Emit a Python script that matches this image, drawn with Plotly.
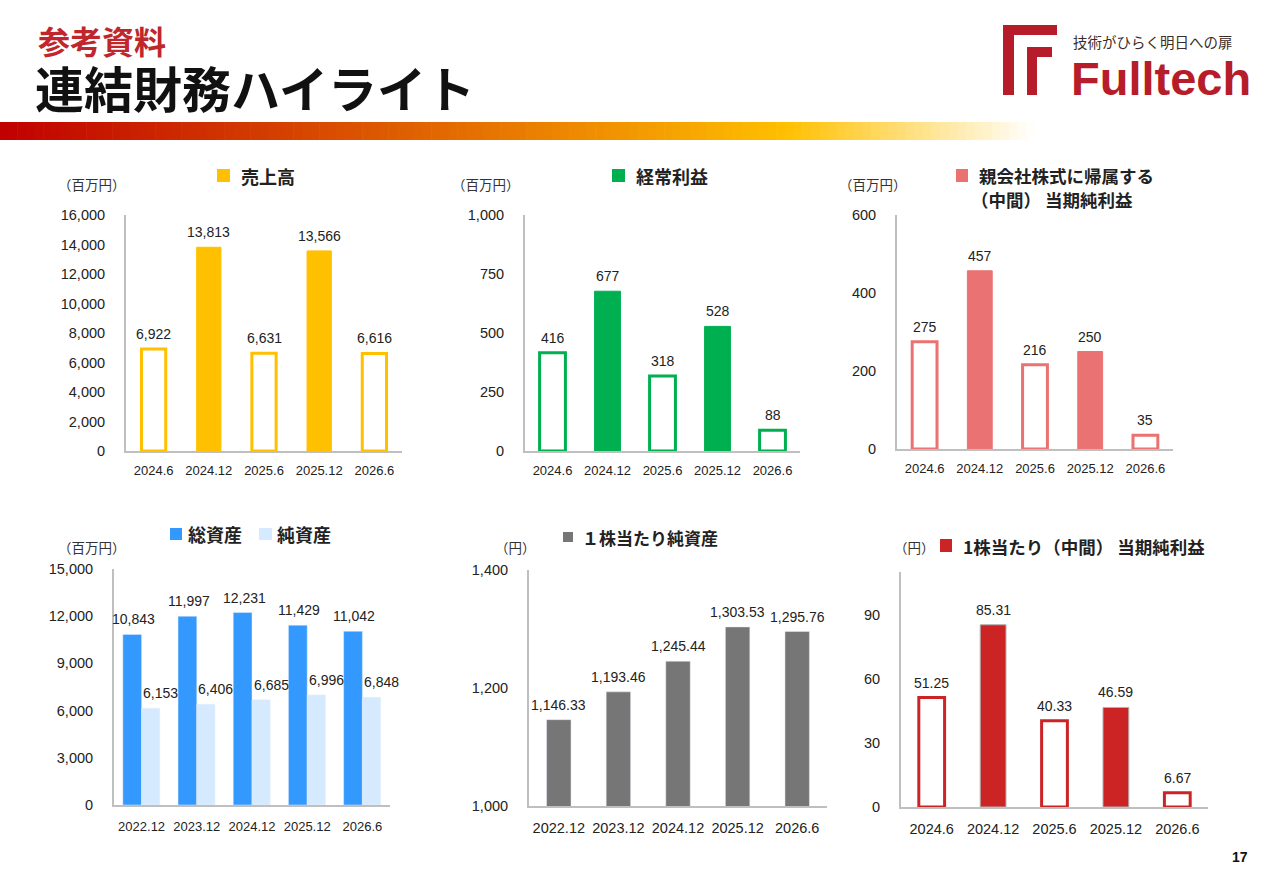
import plotly.graph_objects as go

# データ
cats_half = ["2024.6", "2024.12", "2025.6", "2025.12", "2026.6"]
cats_year = ["2022.12", "2023.12", "2024.12", "2025.12", "2026.6"]
sales = [6922, 13813, 6631, 13566, 6616]
ordinary = [416, 677, 318, 528, 88]
net_income = [275, 457, 216, 250, 35]
total_assets = [10843, 11997, 12231, 11429, 11042]
net_assets = [6153, 6406, 6685, 6996, 6848]
bps = [1146.33, 1193.46, 1245.44, 1303.53, 1295.76]
eps = [51.25, 85.31, 40.33, 46.59, 6.67]
hollow = [True, False, True, False, True]  # 中間期は白抜き

W, H = 1280, 886
JP = "Noto Sans CJK JP"
NUM = "Liberation Sans, Arial"


def px(x):
    return x / W


def py(y):
    return 1 - y / H


fig = go.Figure()
annotations = []
shapes = []


def label(i, v, xa, ya, t, xshift=0):
    # カテゴリ軸の注釈は番号で位置を指定する
    annotations.append(dict(x=i, y=v, xref=xa, yref=ya, text=t,
                            showarrow=False, yanchor="bottom", yshift=5, xshift=xshift,
                            font=dict(family=NUM, size=14, color="#222")))


def half_bars(n, cats, vals, color, width, fmt, edge=None):
    xa = "x" if n == 1 else f"x{n}"
    ya = "y" if n == 1 else f"y{n}"
    fills = ["white" if h else color for h in hollow]
    lw = [3 if h else 1 for h in hollow]
    lc = [color if h else (edge or color) for h in hollow]
    fig.add_trace(go.Bar(x=cats, y=vals, width=width, xaxis=xa, yaxis=ya,
                         marker=dict(color=fills, line=dict(color=lc, width=lw)),
                         hoverinfo="x+y"))
    for i, v in enumerate(vals):
        label(i, v, xa, ya, fmt(v))


def ifmt(v):
    return f"{v:,}"


def ffmt(v):
    return f"{v:,.2f}"


half_bars(1, cats_half, sales, "#FFC000", 0.44, ifmt)
half_bars(2, cats_half, ordinary, "#00B050", 0.47, ifmt)
half_bars(3, cats_half, net_income, "#EB7272", 0.45, ifmt)
half_bars(6, cats_half, eps, "#CC2424", 0.42, ffmt, edge="#B0B0B0")

# 総資産・純資産
fig.add_trace(go.Bar(x=cats_year, y=total_assets, width=0.34, offset=-0.34,
                     xaxis="x4", yaxis="y4", marker=dict(color="#3399FF")))
fig.add_trace(go.Bar(x=cats_year, y=net_assets, width=0.33, offset=0.0,
                     xaxis="x4", yaxis="y4", marker=dict(color="#D5EAFF")))
for i, v in enumerate(total_assets):
    label(i, v, "x4", "y4", ifmt(v), xshift=-8)
for i, v in enumerate(net_assets):
    label(i, v, "x4", "y4", ifmt(v), xshift=19)

# 1株当たり純資産
fig.add_trace(go.Bar(x=cats_year, y=bps, width=0.41, xaxis="x5", yaxis="y5",
                     marker=dict(color="#767676")))
for i, v in enumerate(bps):
    label(i, v, "x5", "y5", ffmt(v))

# 軸の設定: x範囲, y範囲, 値の範囲, 目盛, x目盛の文字サイズ
axes = {
    1: ([126, 402], [215, 451], [0, 16000], dict(dtick=2000), 13),
    2: ([525, 800], [215, 451], [0, 1000], dict(dtick=250), 13),
    3: ([897, 1173], [215, 449], [0, 600], dict(dtick=200), 13),
    4: ([114, 390], [569, 805], [0, 15000], dict(dtick=3000), 13),
    5: ([529, 827], [570, 806], [1000, 1400], dict(dtick=200), 14.5),
    6: ([901, 1208], [572, 807], [0, 110], dict(tickvals=[0, 30, 60, 90]), 14.5),
}
layout_axes = {}
for n, (xd, yd, yr, tk, xfs) in axes.items():
    s = "" if n == 1 else str(n)
    layout_axes["xaxis" + s] = dict(
        domain=[px(xd[0]), px(xd[1])], anchor="y" + s, type="category",
        range=[-0.5, 4.5], automargin=False,
        showline=True, linecolor="#BFBFBF", linewidth=2, showgrid=False,
        ticks="", ticklabelstandoff=6 if n <= 3 else 8,
        tickfont=dict(family=NUM, size=xfs, color="#222"), fixedrange=True)
    layout_axes["yaxis" + s] = dict(
        domain=[py(yd[1]), py(yd[0])], anchor="x" + s, range=yr, automargin=False,
        showline=True, linecolor="#BFBFBF", linewidth=2, showgrid=False,
        zeroline=False, ticks="", tickformat=",", ticklabelstandoff=16,
        tickfont=dict(family=NUM, size=14.5, color="#222"), fixedrange=True, **tk)


def text(x, y, t, size, color="#222", bold=False, anchor="left", family=JP):
    annotations.append(dict(x=px(x), y=py(y), xref="paper", yref="paper",
                            text=f"<b>{t}</b>" if bold else t, showarrow=False,
                            xanchor=anchor, yanchor="middle",
                            font=dict(family=family, size=size, color=color)))


def square(x0, y0, x1, y1, color):
    shapes.append(dict(type="rect", xref="paper", yref="paper",
                       x0=px(x0), x1=px(x1), y0=py(y1), y1=py(y0),
                       fillcolor=color, line=dict(width=0)))


# グラフタイトル
square(217, 169, 230, 182, "#FFC000")
text(239, 176, "売上高", 18, bold=True)
square(612, 169, 625, 182, "#00B050")
text(634, 176, "経常利益", 18, bold=True)
square(956, 169, 968, 182, "#EB7272")
text(977, 176, "親会社株式に帰属する", 17.5, bold=True)
text(969, 199, "（中間） 当期純利益", 17.5, bold=True)
square(170, 528, 182, 540, "#3399FF")
text(186, 534, "総資産", 18, bold=True)
square(259, 528, 272, 540, "#D5EAFF")
text(275, 534, "純資産", 18, bold=True)
square(563, 532, 573, 542, "#767676")
text(580, 537, "１株当たり純資産", 17, bold=True)
square(940, 539, 952, 552, "#CC2424")
text(961, 546, "1株当たり（中間） 当期純利益", 17.5, bold=True)

# 単位
text(56, 184, "（百万円）", 13.5, color="#333")
text(450, 184, "（百万円）", 13.5, color="#333")
text(837, 184, "（百万円）", 13.5, color="#333")
text(56, 547, "（百万円）", 13.5, color="#333")
text(493, 547, "（円）", 13.5, color="#333")
text(892, 547, "（円）", 13.5, color="#333")

# ヘッダー
text(36, 40, "参考資料", 32, color="#C0272D", bold=True)
text(33, 86, "連結財務ハイライト", 49, color="#111", bold=True)
text(1240, 857, "17", 14, color="#111", bold=True, anchor="center", family=NUM)

# グラデーションの帯
stops = [(0.0, (192, 0, 0)), (0.29, (214, 69, 0)), (0.58, (240, 144, 0)),
         (0.76, (255, 192, 0)), (1.0, (255, 255, 255))]
bar_end = 1035
steps = 120
for i in range(steps):
    t = (i + 0.5) / steps
    for (a, ca), (b, cb) in zip(stops[:-1], stops[1:]):
        if a <= t <= b:
            f = (t - a) / (b - a)
            rgb = tuple(round(ca[k] + (cb[k] - ca[k]) * f) for k in range(3))
            break
    shapes.append(dict(type="rect", xref="paper", yref="paper",
                       x0=px(bar_end * i / steps), x1=px(bar_end * (i + 1) / steps + 0.6),
                       y0=py(140), y1=py(122), fillcolor="rgb(%d,%d,%d)" % rgb,
                       line=dict(width=0), layer="below"))

# ロゴ
logo_red = "#B71C2A"
square(1003, 25, 1014, 95, logo_red)
square(1003, 25, 1057, 35, logo_red)
square(1027, 47, 1037, 95, logo_red)
square(1027, 47, 1052, 57, logo_red)
text(1071, 42, "技術がひらく明日への扉", 14.5, color="#3d2b25")
text(1069, 78, "Fulltech", 47, color=logo_red, bold=True, family=NUM)

fig.update_layout(
    width=W, height=H, margin=dict(l=0, r=0, t=0, b=0),
    paper_bgcolor="white", plot_bgcolor="white", showlegend=False,
    annotations=annotations, shapes=shapes, **layout_axes)

# ページの余白をなくす
fig.write_html("out.html", config={"displayModeBar": False},
               post_script="document.body.style.margin='0';")
